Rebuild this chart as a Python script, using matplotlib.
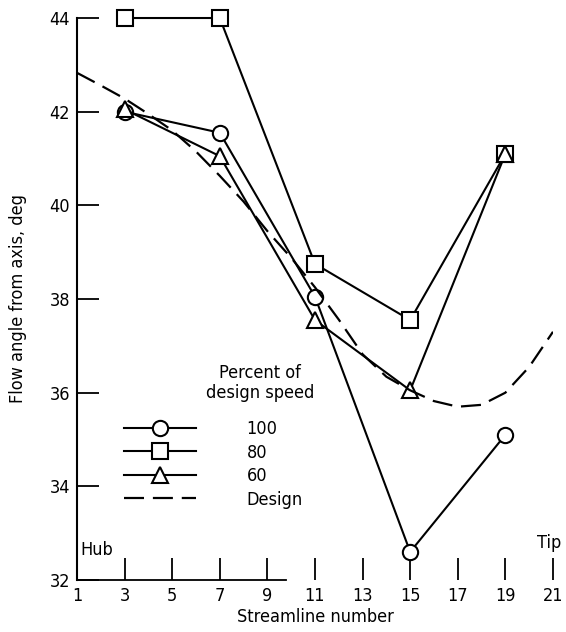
import numpy as np
import matplotlib
matplotlib.use('Agg')
import matplotlib.pyplot as plt

plt.rcParams['font.family'] = ['DejaVu Sans']
plt.rcParams['font.stretch'] = 'condensed'

# 流線番号ごとの流れ角 (deg)
streamline = [3, 7, 11, 15, 19]
speed_100 = [42.0, 41.55, 38.05, 32.6, 35.1]
speed_80 = [44.0, 44.0, 38.75, 37.55, 41.1]
speed_60 = [42.05, 41.05, 37.55, 36.05, 41.1]

# 設計値
design_x = [1, 2, 3, 4, 5, 6, 7, 8, 9, 10, 11, 12, 13, 14, 15, 16, 17, 18, 19, 20, 21]
design_y = [42.83, 42.56, 42.28, 41.95, 41.6, 41.15, 40.63, 40.08, 39.45, 38.88, 38.25,
            37.56, 36.82, 36.34, 36.05, 35.82, 35.7, 35.74, 36.0, 36.55, 37.3]

fig = plt.figure(figsize=(5.66, 6.32), dpi=100)
ax = fig.add_axes([0.136, 0.0823, 0.841, 0.8892])

mk = dict(color='black', lw=1.5, markersize=11, markerfacecolor='white',
          markeredgecolor='black', markeredgewidth=1.5, clip_on=False)
ax.plot(streamline, speed_100, marker='o', label='100', **mk)
ax.plot(streamline, speed_80, marker='s', label='80', **mk)
ax.plot(streamline, speed_60, marker='^', label='60', **mk)
ax.plot(design_x, design_y, color='black', lw=1.6, dashes=(9, 4), label='Design')

ax.set_xlim(1, 21)
ax.set_ylim(32, 44)
ax.set_xticks(np.arange(1, 22, 2))
ax.set_yticks(np.arange(32, 45, 2))
ax.tick_params(direction='in', length=16, width=1.3, labelsize=13, pad=5)

for s in ['top', 'right']:
    ax.spines[s].set_visible(False)
ax.spines['left'].set_linewidth(1.5)
ax.spines['bottom'].set_linewidth(1.3)
ax.spines['bottom'].set_bounds(1, 9.8)

ax.set_xlabel('Streamline number', fontsize=13, labelpad=2)
ax.set_ylabel('Flow angle from axis, deg', fontsize=13, labelpad=16)

ax.text(1.15, 32.45, 'Hub', fontsize=13, ha='left', va='bottom')
ax.text(20.85, 32.6, 'Tip', fontsize=13, ha='center', va='bottom')

# 凡例の見出し
ax.text(8.7, 35.79, 'Percent of\ndesign speed', fontsize=13, ha='center',
        va='bottom', multialignment='center', linespacing=1.2)

leg = ax.legend(loc='upper left', bbox_to_anchor=(0.0987, 0.284),
                frameon=False, fontsize=13, handlelength=4.0,
                handletextpad=2.8, borderpad=0, borderaxespad=0,
                labelspacing=0.3)

plt.savefig('out.png', dpi=100)
